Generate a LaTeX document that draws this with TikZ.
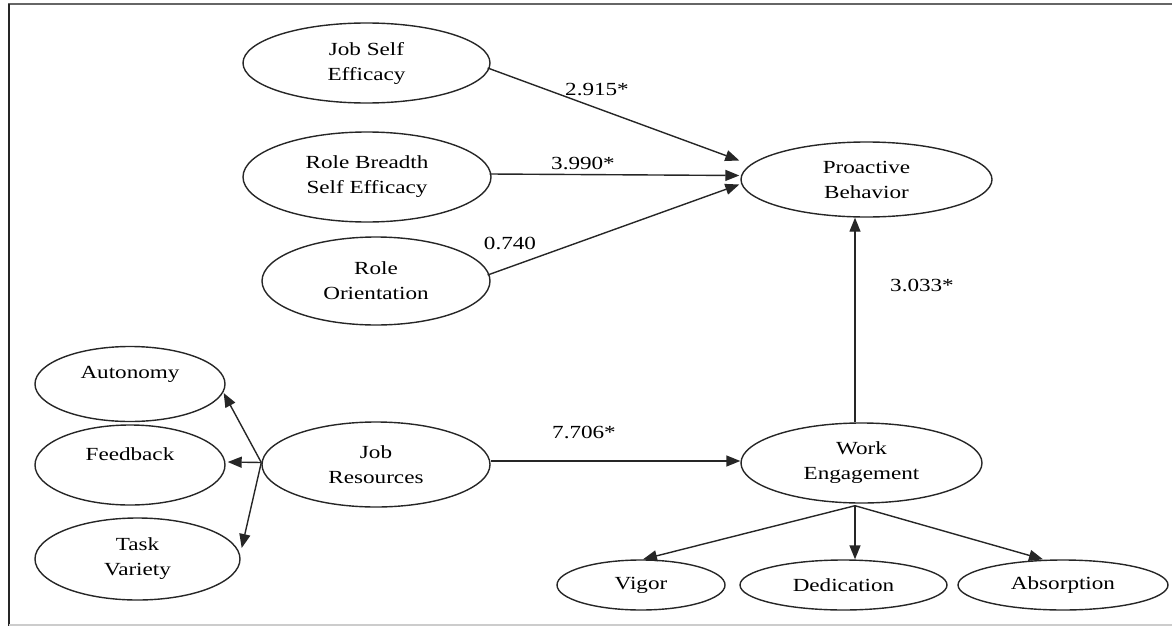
\documentclass[tikz,border=0pt]{standalone}
\usepackage{fontspec}
\setmainfont{Liberation Serif}[FakeStretch=1.25]
\usetikzlibrary{arrows.meta,calc,shapes.geometric}

\begin{document}
\begin{tikzpicture}[x=1pt,y=-1pt,
  oval/.style={ellipse, draw=black!85, line width=1.4pt, inner sep=0pt},
  lbl/.style={font=\fontsize{18.5}{25}\selectfont, align=center, text=black, inner sep=0pt},
  arr/.style={line width=1.4pt, draw=black!85, -{Triangle[length=14pt,width=11pt]}},
]
\useasboundingbox (0,0) rectangle (1172,626);

% frame
\draw[line width=2pt, black!60] (8,4.5) -- (1172,4.5);
\draw[line width=1.6pt, black!85] (9,4) -- (9,626);
\draw[line width=1.2pt, black!20] (9,625) -- (1172,625);

% antecedents of proactive behavior
\node[oval, lbl, minimum width=247pt, minimum height=80pt] (jse) at (366.5,63) {Job Self\\Efficacy};
\node[oval, lbl, minimum width=248pt, minimum height=90pt] (rbse) at (367,177) {Role Breadth\\Self Efficacy};
\node[oval, lbl, minimum width=228pt, minimum height=88pt] (ro) at (376,281) {Role\\Orientation};
\node[oval, lbl, minimum width=251pt, minimum height=75pt] (pb) at (866.5,179.5) {Proactive\\Behavior};

% job resources and its facets
\node[oval, minimum width=190pt, minimum height=75pt] (aut) at (130,384) {};
\node[lbl] (autt) at (130,374) {Autonomy};
\node[oval, minimum width=190pt, minimum height=80pt] (fb) at (130,465) {};
\node[lbl] (fbt) at (130,454) {Feedback};
\node[oval, lbl, minimum width=205pt, minimum height=82pt] (tv) at (137.5,559) {Task\\Variety};
\node[oval, lbl, minimum width=228pt, minimum height=85pt] (jr) at (376,464.5) {Job\\Resources};

% work engagement and its facets
\node[oval, lbl, minimum width=241pt, minimum height=80pt] (we) at (861.5,463) {Work\\Engagement};
\node[oval, lbl, minimum width=168pt, minimum height=50pt] (vig) at (641,585) {Vigor};
\node[oval, lbl, minimum width=207pt, minimum height=50pt] (ded) at (843.5,585) {Dedication};
\node[oval, lbl, minimum width=210pt, minimum height=50pt] (abs) at (1063,585) {Absorption};

% paths into proactive behavior
\draw[arr] ($(jse.east)+(-3,5)$) -- ($(pb.west)+(-1,-19)$);
\draw[arr] ($(rbse.east)+(-2,-3)$) -- ($(pb.west)+(-1,-4)$);
\draw[arr] ($(ro.east)+(-3,-6)$) -- ($(pb.west)+(-1,5)$);
\draw[arr] ($(we.north)+(-6.5,0)$) -- ($(pb.south)+(-11.5,0)$);

% job resources paths
\coordinate (jrw) at ($(jr.west)+(0,-2)$);
\draw[arr] (jrw) -- ($(aut.east)+(-2,9)$);
\draw[arr] (jrw) -- ($(fb.east)+(2,-3)$);
\draw[arr] (jrw) -- ($(tv.east)+(1,-11)$);
\draw[arr] ($(jr.east)+(0,-3.5)$) -- ($(we.west)+(0,-2)$);

% work engagement facets
\coordinate (wes) at ($(we.south)+(-6.5,2)$);
\draw[arr] (wes) -- ($(vig.north)+(2,0)$);
\draw[arr] (wes) -- ($(ded.north)+(11.5,0)$);
\draw[arr] (wes) -- ($(abs.north)+(-20,0)$);

% path coefficients
\node[lbl] (c1) at (597,90) {2.915*};
\node[lbl] (c2) at (583,163) {3.990*};
\node[lbl] (c3) at (510,243) {0.740};
\node[lbl] (c4) at (922,285) {3.033*};
\node[lbl] (c5) at (584,432) {7.706*};
\end{tikzpicture}
\end{document}
